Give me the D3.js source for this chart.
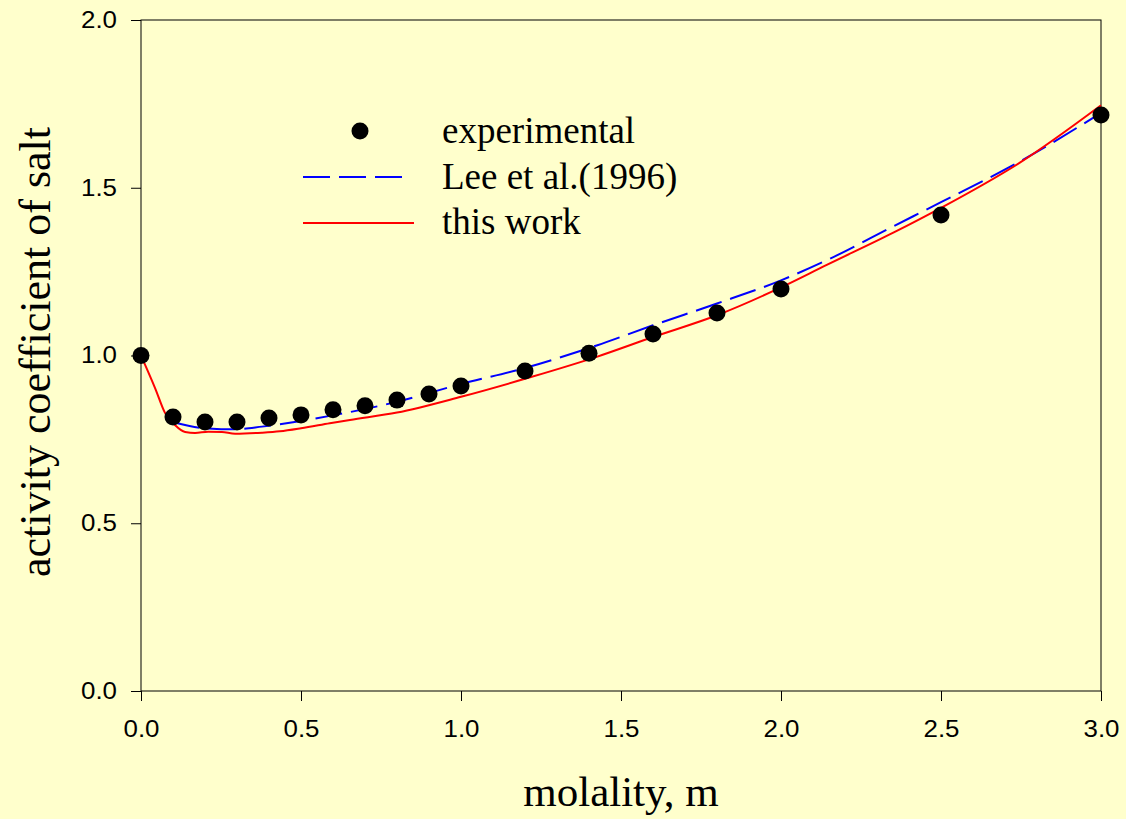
<!DOCTYPE html>
<html>
<head>
<meta charset="utf-8">
<script src="https://cdn.jsdelivr.net/npm/d3@7"></script>
<style>
  html, body { margin: 0; padding: 0; background: #FFFFCC; }
  svg { display: block; }
</style>
</head>
<body>
<script>
// ---- data ----
const expX = [0, 0.1, 0.2, 0.3, 0.4, 0.5, 0.6, 0.7, 0.8, 0.9, 1.0, 1.2, 1.4, 1.6, 1.8, 2.0, 2.5, 3.0];
const expY = [1.0, 0.817, 0.802, 0.802, 0.814, 0.823, 0.838, 0.850, 0.867, 0.885, 0.909, 0.954, 1.007, 1.064, 1.127, 1.198, 1.419, 1.717];

const leeX = [0.1, 0.19, 0.29, 0.378, 0.5, 0.59, 0.8, 1.0, 1.216, 1.424, 1.6, 1.8, 2.0, 2.143, 2.351, 2.5, 2.75, 3.0];
const leeY = [0.802, 0.784, 0.780, 0.788, 0.805, 0.820, 0.862, 0.915, 0.967, 1.030, 1.090, 1.155, 1.224, 1.284, 1.385, 1.457, 1.580, 1.723];

const workX = [0, 0.044, 0.075, 0.106, 0.138, 0.169, 0.21, 0.253, 0.294, 0.378, 0.434, 0.5, 0.59, 0.653, 0.8, 1.0, 1.216, 1.424, 1.6, 1.8, 2.0, 2.143, 2.351, 2.5, 2.75, 3.0];
const workY = [1.0, 0.903, 0.829, 0.793, 0.772, 0.769, 0.773, 0.772, 0.767, 0.770, 0.774, 0.783, 0.798, 0.808, 0.830, 0.877, 0.935, 0.996, 1.055, 1.120, 1.203, 1.270, 1.366, 1.440, 1.577, 1.746];

const xTicks = [0, 0.5, 1.0, 1.5, 2.0, 2.5, 3.0];
const yTicks = [0, 0.5, 1.0, 1.5, 2.0];

const legendLabels = ["experimental", "Lee et al.(1996)", "this work"];
const xTitle = "molality, m";
const yTitle = "activity coefficient of salt";

(function () {
// ---- layout ----
const W = 1126, H = 819;
const pL = 141, pR = 1101, pT = 20, pB = 691;

const svg = d3.select("body").append("svg").attr("width", W).attr("height", H);
svg.append("rect").attr("width", W).attr("height", H).attr("fill", "#FFFFCC");

const x = d3.scaleLinear().domain([0, 3]).range([pL, pR]);
const y = d3.scaleLinear().domain([0, 2]).range([pB, pT]);

// frame
svg.append("rect").attr("x", pL).attr("y", pT)
  .attr("width", pR - pL).attr("height", pB - pT)
  .attr("fill", "none").attr("stroke", "#000").attr("stroke-width", 1);

// axes
const xAxis = d3.axisBottom(x).tickValues(xTicks).tickFormat(d3.format(".1f")).tickSize(10).tickPadding(20);
const yAxis = d3.axisLeft(y).tickValues(yTicks).tickFormat(d3.format(".1f")).tickSize(10).tickPadding(14);

const gx = svg.append("g").attr("transform", `translate(0,${pB})`).call(xAxis);
const gy = svg.append("g").attr("transform", `translate(${pL},0)`).call(yAxis);
[gx, gy].forEach(g => {
  g.select(".domain").remove();
  g.selectAll(".tick line").attr("stroke", "#000").attr("stroke-width", 1);
  g.selectAll(".tick text")
    .attr("fill", "#000")
    .style("font-family", "'Liberation Sans', Arial, sans-serif")
    .style("font-size", "23px")
    .attr("textLength", 36)
    .attr("lengthAdjust", "spacingAndGlyphs");
});

// lines
const line = d3.line().x(d => x(d[0])).y(d => y(d[1])).curve(d3.curveMonotoneX);
const leeData = leeX.map((v, i) => [v, leeY[i]]);
const workData = workX.map((v, i) => [v, workY[i]]);

svg.append("path").datum(leeData).attr("d", line)
  .attr("fill", "none").attr("stroke", "#0000FF").attr("stroke-width", 2)
  .attr("stroke-dasharray", "27,9");

svg.append("path").datum(workData).attr("d", line)
  .attr("fill", "none").attr("stroke", "#FF0000").attr("stroke-width", 2);

// points
svg.append("g").selectAll("circle").data(expX.map((v, i) => [v, expY[i]])).join("circle")
  .attr("cx", d => x(d[0])).attr("cy", d => y(d[1])).attr("r", 8.5).attr("fill", "#000");

// legend
const serif = "'Liberation Serif', 'Times New Roman', serif";
const lg = svg.append("g");
lg.append("circle").attr("cx", 360).attr("cy", 131).attr("r", 8.5).attr("fill", "#000");
lg.append("line").attr("x1", 303).attr("x2", 405).attr("y1", 177).attr("y2", 177)
  .attr("stroke", "#0000FF").attr("stroke-width", 2).attr("stroke-dasharray", "27,9");
lg.append("line").attr("x1", 303).attr("x2", 414).attr("y1", 223).attr("y2", 223)
  .attr("stroke", "#FF0000").attr("stroke-width", 2);
const legY = [143, 189, 234];
legendLabels.forEach((t, i) => {
  lg.append("text").attr("x", 442).attr("y", legY[i]).text(t)
    .style("font-family", serif).style("font-size", "37px").attr("fill", "#000");
});

// titles
svg.append("text").attr("x", 621).attr("y", 806).attr("text-anchor", "middle")
  .style("font-family", serif).style("font-size", "43px").attr("fill", "#000").text(xTitle);
svg.append("text").attr("transform", `translate(50,352) rotate(-90)`).attr("text-anchor", "middle")
  .style("font-family", serif).style("font-size", "44px").attr("fill", "#000").text(yTitle);
})();
</script>
</body>
</html>
